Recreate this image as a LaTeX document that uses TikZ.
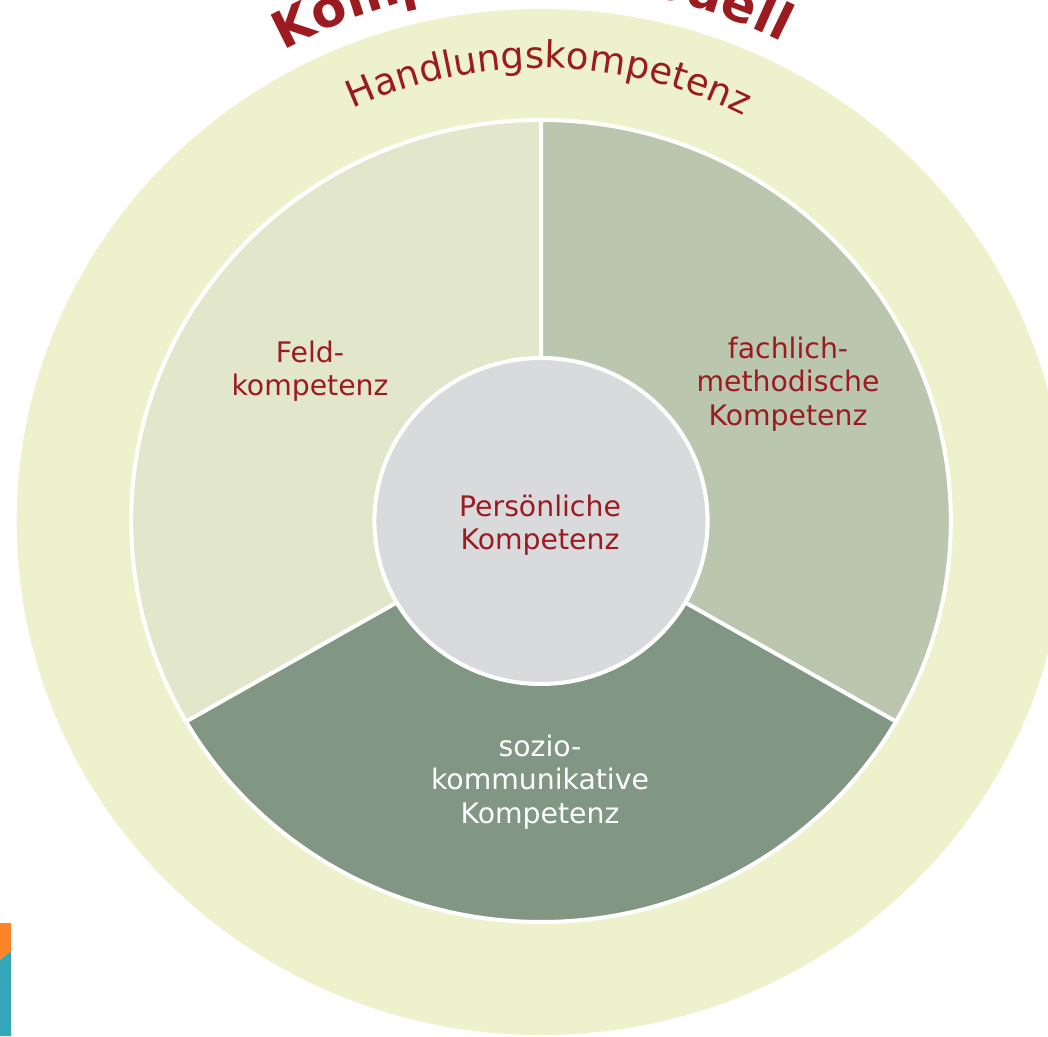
\documentclass[tikz,border=0pt]{standalone}
\usepackage{fontspec}
\setmainfont{DejaVu Sans}
\usetikzlibrary{decorations.text}
\definecolor{band}{RGB}{238,242,204}
\definecolor{feld}{RGB}{226,230,202}
\definecolor{fach}{RGB}{186,198,174}
\definecolor{sozio}{RGB}{129,151,131}
\definecolor{mid}{RGB}{217,218,220}
\definecolor{kred}{RGB}{155,27,32}
\definecolor{korange}{RGB}{255,132,38}
\definecolor{kteal}{RGB}{51,167,184}
\newcommand{\lblfont}{\fontsize{28.3}{33.5}\selectfont}
\newcommand{\handfont}{\fontsize{37}{40}\selectfont}
\newcommand{\titlefont}{\fontsize{51}{54}\selectfont\bfseries}
\tikzset{
  sep/.style={draw=white, line width=4pt},
  lbl/.style={font=\lblfont, align=center, text=kred, inner sep=0pt},
}
\begin{document}
\begin{tikzpicture}[x=1pt,y=1pt]
\useasboundingbox (0,0) rectangle (1048,1036);
\fill[white] (0,0) rectangle (1048,1036);
\coordinate (c) at (541,514);
\begin{scope}[shift={(541,514)}, xscale=1.022]
  \fill[band] (0,0) circle (513pt);
\end{scope}
\begin{scope}[shift={(541,515)}, xscale=1.022]
  \fill[feld] (0,0) -- (90:401pt) arc (90:210:401pt) -- cycle;
  \fill[fach] (0,0) -- (-30:401pt) arc (-30:90:401pt) -- cycle;
  \fill[sozio] (0,0) -- (210:401pt) arc (210:330:401pt) -- cycle;
  \draw[sep] (0,0) circle (401pt);
  \draw[sep] (0,0) -- (90:401pt) (0,0) -- (210:401pt) (0,0) -- (330:401pt);
  \fill[mid] (0,0) circle (163pt);
  \draw[sep] (0,0) circle (163pt);
\end{scope}
% arc texts
\path[decorate, decoration={text along path, text align=center,
  text={|\handfont\color{kred}|Handlungskompetenz}}]
  ([shift={(149:454pt)}]c) arc (149:29:454pt);
\path[decorate, decoration={text along path, text align=center,
  text={|\titlefont\color{kred}|Kompetenzmodell}}]
  ([shift={(151:537pt)}]c) arc (151:31:537pt);
% labels
\node[lbl] (feldl) at (310,665) {Feld-\\kompetenz};
\node[lbl] (fachl) at (788,652) {fachlich-\\methodische\\Kompetenz};
\node[lbl, text=white] (soziol) at (540,254) {sozio-\\kommunikative\\Kompetenz};
\node[lbl] (persl) at (540,511) {Persönliche\\Kompetenz};
% corner marks
\fill[korange] (0,113) -- (11,113) -- (11,85) -- (0,76) -- cycle;
\fill[kteal] (0,76) -- (11,85) -- (11,0) -- (0,0) -- cycle;
\end{tikzpicture}
\end{document}
